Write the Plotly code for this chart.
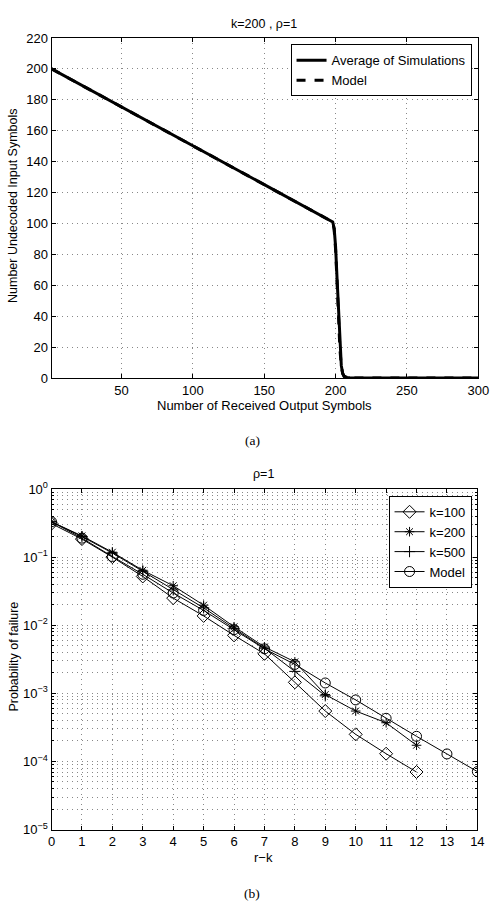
import plotly.graph_objects as go

# ---- Panel (a) data ----
sim_x = [1, 100, 198, 199, 200, 201, 202, 203, 204, 205, 206, 208, 210, 300]
sim_y = [200, 150.5, 101, 97, 85, 65, 42, 20, 8, 3, 1.2, 0.4, 0.2, 0.1]
model_x = [1, 100, 198, 199, 200, 201, 202, 203, 204, 205, 206, 208, 210, 300]
model_y = [200, 150.5, 101, 96, 83, 63, 40, 19, 7.5, 2.8, 1.0, 0.3, 0.1, 0.0]

# ---- Panel (b) data ----
rk_100 = list(range(0, 13))
pf_100 = [0.31, 0.184, 0.1, 0.052, 0.025, 0.0137, 0.0071, 0.0038, 0.00145, 0.00055, 0.00025, 0.00013, 0.00007]
rk_200 = list(range(0, 13))
pf_200 = [0.33, 0.205, 0.118, 0.064, 0.038, 0.0197, 0.0095, 0.0048, 0.0029, 0.00096, 0.00055, 0.00037, 0.000173]
rk_500 = list(range(0, 10))
pf_500 = [0.33, 0.2, 0.115, 0.062, 0.033, 0.018, 0.009, 0.0046, 0.0021, 0.00092]
rk_model = list(range(0, 15))
pf_model = [0.33, 0.19, 0.102, 0.056, 0.0297, 0.0165, 0.0086, 0.0045, 0.00266, 0.00142, 0.0008, 0.00043, 0.000234, 0.000129, 0.000071]

top_xticks = [50, 100, 150, 200, 250, 300]
log_tickvals = [1e-5, 1e-4, 1e-3, 1e-2, 1e-1, 1]
log_ticktext = ["10<sup>−5</sup>", "10<sup>−4</sup>", "10<sup>−3</sup>", "10<sup>−2</sup>", "10<sup>−1</sup>", "10<sup>0</sup>"]

W, H = 500, 922
FONT = "Liberation Sans, Arial, sans-serif"
SERIF = "Liberation Serif, DejaVu Serif, serif"

def px(v):
    return v / W

def py(v):
    return 1 - v / H

fig = go.Figure()

fig.add_trace(go.Scatter(x=sim_x, y=sim_y, mode="lines", name="Average of Simulations",
                         line=dict(color="black", width=3), xaxis="x", yaxis="y", legend="legend"))
fig.add_trace(go.Scatter(x=model_x, y=model_y, mode="lines", name="Model",
                         line=dict(color="black", width=3, dash="dash"), xaxis="x", yaxis="y", legend="legend"))

def mk(symbol, size):
    return dict(symbol=symbol, size=size, color="black", line=dict(color="black", width=1))

fig.add_trace(go.Scatter(x=rk_100, y=pf_100, mode="lines+markers", name="k=100",
                         line=dict(color="black", width=1), marker=mk("diamond-open", 10),
                         xaxis="x2", yaxis="y2", legend="legend2"))
fig.add_trace(go.Scatter(x=rk_200, y=pf_200, mode="lines+markers", name="k=200",
                         line=dict(color="black", width=1), marker=mk("asterisk-open", 8),
                         xaxis="x2", yaxis="y2", legend="legend2"))
fig.add_trace(go.Scatter(x=rk_500, y=pf_500, mode="lines+markers", name="k=500",
                         line=dict(color="black", width=1), marker=mk("cross-thin-open", 8),
                         xaxis="x2", yaxis="y2", legend="legend2"))
fig.add_trace(go.Scatter(x=rk_model, y=pf_model, mode="lines+markers", name="Model",
                         line=dict(color="black", width=1), marker=mk("circle-open", 10),
                         xaxis="x2", yaxis="y2", legend="legend2"))

GRIDDASH = "1px,4px"
GRIDCOLOR = "#888888"
axcommon = dict(showline=True, linecolor="black", linewidth=1, mirror="ticks",
                ticks="inside", ticklen=4, tickcolor="black", zeroline=False,
                showgrid=True, gridcolor=GRIDCOLOR, griddash=GRIDDASH, gridwidth=1,
                tickfont=dict(family=FONT, size=13, color="black"))

fig.update_layout(
    width=W, height=H, margin=dict(l=0, r=0, t=0, b=0),
    paper_bgcolor="white", plot_bgcolor="white",
    font=dict(family=FONT, size=12, color="black"),
    xaxis=dict(domain=[px(49), px(489)], range=[1, 300], tickvals=top_xticks, anchor="y", **axcommon),
    yaxis=dict(domain=[py(376), py(29.5)], range=[0, 220], dtick=20, anchor="x", **axcommon),
    xaxis2=dict(domain=[px(49), px(488)], range=[0, 14], dtick=1, anchor="y2", **axcommon),
    yaxis2=dict(domain=[py(836), py(489)], type="log", range=[-5, 0], tickmode="array",
                tickvals=log_tickvals, ticktext=log_ticktext, anchor="x2",
                minor=dict(dtick="D1", showgrid=True, gridcolor=GRIDCOLOR, griddash=GRIDDASH,
                           ticks="inside", ticklen=2, tickcolor="black"),
                **axcommon),
    legend=dict(x=px(482), y=py(36), xanchor="right", yanchor="top",
                bgcolor="white", bordercolor="black", borderwidth=1,
                font=dict(family=FONT, size=13), tracegroupgap=0),
    legend2=dict(x=px(482), y=py(496), xanchor="right", yanchor="top",
                 bgcolor="white", bordercolor="black", borderwidth=1,
                 font=dict(family=FONT, size=13), tracegroupgap=0),
    showlegend=True,
)

ann = [
    dict(text="k=200 , ρ=1", x=px(268), y=py(15), size=12.5, family=FONT, angle=0),
    dict(text="Number of Received Output Symbols", x=px(269), y=py(404), size=13, family=FONT, angle=0),
    dict(text="Number Undecoded Input Symbols", x=px(10), y=py(200), size=12.5, family=FONT, angle=-90),
    dict(text="(a)", x=px(256), y=py(440), size=13.5, family=SERIF, angle=0),
    dict(text="ρ=1", x=px(268), y=py(474), size=12.5, family=FONT, angle=0),
    dict(text="r−k", x=px(268), y=py(864), size=13, family=FONT, angle=0),
    dict(text="Probability of failure", x=px(10), y=py(660), size=12.5, family=FONT, angle=-90),
    dict(text="(b)", x=px(256), y=py(901), size=13.5, family=SERIF, angle=0),
]
for a in ann:
    fig.add_annotation(text=a["text"], x=a["x"], y=a["y"], xref="paper", yref="paper",
                       xanchor="center", yanchor="middle", showarrow=False, textangle=a["angle"],
                       font=dict(family=a["family"], size=a["size"], color="black"))

fig.write_html("out.html")
